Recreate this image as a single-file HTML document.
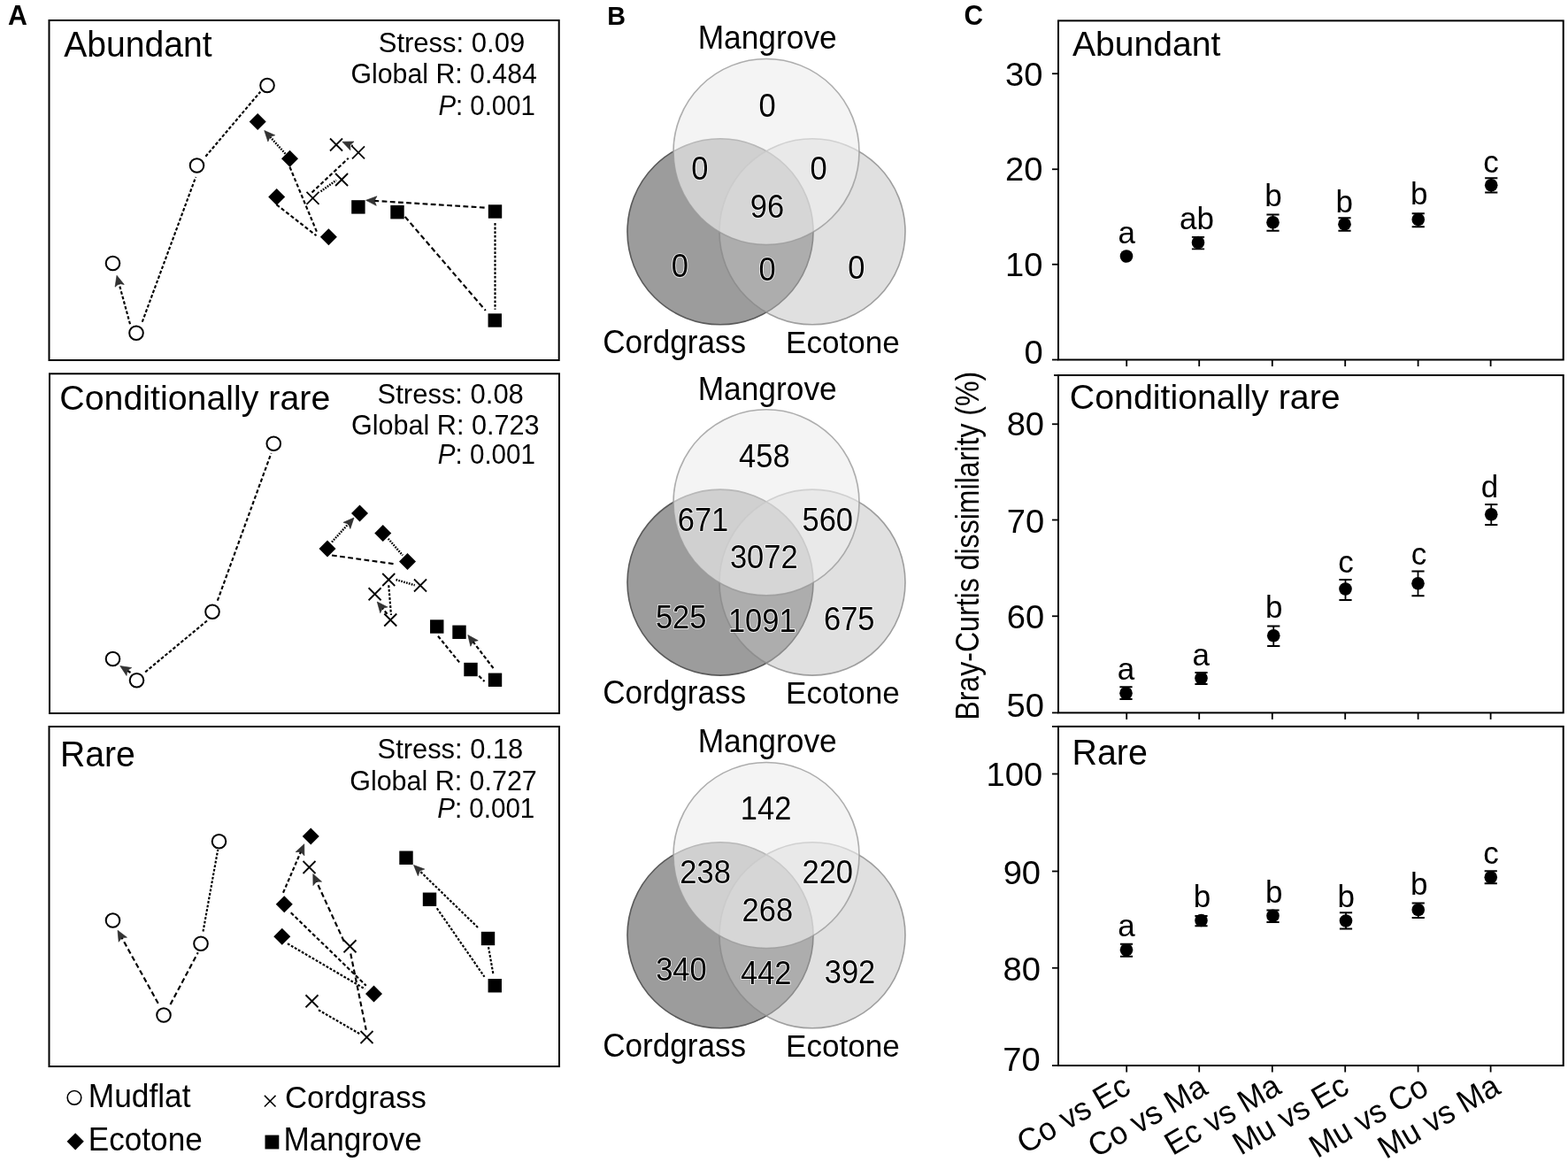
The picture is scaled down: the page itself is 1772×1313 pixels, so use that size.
<!DOCTYPE html>
<html><head><meta charset="utf-8"><title>Figure</title>
<style>
html,body{margin:0;padding:0;background:#fff;}
svg{display:block;}
text{font-family:"Liberation Sans", Arial, Helvetica, sans-serif;fill:#000;}
</style></head>
<body>
<svg width="1772" height="1313" viewBox="0 0 1772 1313">
<rect width="1772" height="1313" fill="#fff"/>
<rect x="55.5" y="23" width="576.20" height="384.00" fill="none" stroke="#000" stroke-width="2"/>
<rect x="56" y="422.3" width="576.00" height="383.70" fill="none" stroke="#000" stroke-width="2"/>
<rect x="55.5" y="821" width="576.50" height="384.00" fill="none" stroke="#000" stroke-width="2"/>
<path d="M160.75 363.75L221.25 200.00" stroke="#000" stroke-width="2.15" stroke-dasharray="3.6,2.2" fill="none"/>
<path d="M232.40 176.80L294.20 103.70" stroke="#000" stroke-width="2.15" stroke-dasharray="3.6,2.2" fill="none"/>
<path d="M147.00 366.25L134.37 319.93" stroke="#000" stroke-width="2.15" stroke-dasharray="3.6,2.2" fill="none"/>
<path d="M132.00 311.25L140.27 321.43L134.50 320.42L130.04 324.22Z" fill="#333" stroke="#222" stroke-width="0.6"/>
<path d="M322.50 173.75L304.79 154.17" stroke="#000" stroke-width="2.4" stroke-dasharray="1.7,1.3" fill="none"/>
<path d="M298.75 147.50L310.73 152.84L305.12 154.54L302.87 159.95Z" fill="#333" stroke="#222" stroke-width="0.6"/>
<path d="M327.50 188.75L358.75 263.75" stroke="#000" stroke-width="2.15" stroke-dasharray="4.2,2.6" fill="none"/>
<path d="M312.50 231.25L357.50 266.25" stroke="#000" stroke-width="2.15" stroke-dasharray="4.2,2.6" fill="none"/>
<path d="M352.50 217.50L393.75 178.75" stroke="#000" stroke-width="2.15" stroke-dasharray="4.2,2.6" fill="none"/>
<path d="M362.50 216.25L380.00 203.75" stroke="#000" stroke-width="2.4" stroke-dasharray="1.7,1.3" fill="none"/>
<path d="M398.60 165.10L395.20 163.68" stroke="#000" stroke-width="2.4" stroke-dasharray="1.7,1.3" fill="none"/>
<path d="M386.90 160.20L400.02 159.95L395.66 163.87L395.92 169.72Z" fill="#333" stroke="#222" stroke-width="0.6"/>
<path d="M547.60 234.60L422.58 226.86" stroke="#000" stroke-width="2.15" stroke-dasharray="5.8,3.4" fill="none"/>
<path d="M413.60 226.30L425.90 221.75L423.08 226.89L425.25 232.33Z" fill="#333" stroke="#222" stroke-width="0.6"/>
<path d="M457.70 244.90L548.80 350.90" stroke="#000" stroke-width="2.15" stroke-dasharray="5.8,3.4" fill="none"/>
<path d="M559.50 252.00L559.50 349.80" stroke="#000" stroke-width="2.15" stroke-dasharray="2.8,1.8" fill="none"/>
<path d="M245.80 678.70L306.50 512.10" stroke="#000" stroke-width="2.15" stroke-dasharray="4.2,2.6" fill="none"/>
<path d="M164.20 759.30L234.80 700.80" stroke="#000" stroke-width="2.15" stroke-dasharray="3.6,2.2" fill="none"/>
<path d="M147.50 760.00L143.34 757.34" stroke="#000" stroke-width="2.15" stroke-dasharray="4.2,2.6" fill="none"/>
<path d="M135.75 752.50L148.72 754.49L143.76 757.61L143.01 763.42Z" fill="#333" stroke="#222" stroke-width="0.6"/>
<path d="M375.00 612.50L393.95 591.66" stroke="#000" stroke-width="2.4" stroke-dasharray="1.7,1.3" fill="none"/>
<path d="M400.00 585.00L395.85 597.44L393.61 592.03L388.01 590.31Z" fill="#333" stroke="#222" stroke-width="0.6"/>
<path d="M375.00 627.50L447.50 637.50" stroke="#000" stroke-width="2.15" stroke-dasharray="5.8,3.4" fill="none"/>
<path d="M438.75 608.75L455.00 627.50" stroke="#000" stroke-width="2.4" stroke-dasharray="1.7,1.3" fill="none"/>
<path d="M447.50 655.00L468.75 661.25" stroke="#000" stroke-width="2.4" stroke-dasharray="1.7,1.3" fill="none"/>
<path d="M439.25 661.25L442.00 695.00" stroke="#000" stroke-width="2.15" stroke-dasharray="2.8,1.8" fill="none"/>
<path d="M437.50 693.75L431.95 686.97" stroke="#000" stroke-width="2.15" stroke-dasharray="4.2,2.6" fill="none"/>
<path d="M426.25 680.00L437.95 685.93L432.27 687.35L429.75 692.64Z" fill="#333" stroke="#222" stroke-width="0.6"/>
<path d="M495.00 718.75L520.00 749.50" stroke="#000" stroke-width="2.15" stroke-dasharray="4.2,2.6" fill="none"/>
<path d="M557.50 755.00L534.23 724.64" stroke="#000" stroke-width="2.15" stroke-dasharray="4.2,2.6" fill="none"/>
<path d="M528.75 717.50L540.26 723.80L534.53 725.04L531.85 730.25Z" fill="#333" stroke="#222" stroke-width="0.6"/>
<path d="M541.25 763.75L547.50 770.00" stroke="#000" stroke-width="2.15" stroke-dasharray="4.2,2.6" fill="none"/>
<path d="M192.50 1135.00L223.75 1076.25" stroke="#000" stroke-width="2.15" stroke-dasharray="5.8,3.4" fill="none"/>
<path d="M229.50 1052.50L246.25 960.00" stroke="#000" stroke-width="2.15" stroke-dasharray="2.8,1.8" fill="none"/>
<path d="M178.75 1133.75L137.36 1059.12" stroke="#000" stroke-width="2.15" stroke-dasharray="5.8,3.4" fill="none"/>
<path d="M133.00 1051.25L143.45 1059.17L137.61 1059.56L134.18 1064.31Z" fill="#333" stroke="#222" stroke-width="0.6"/>
<path d="M320.00 1008.75L340.18 962.01" stroke="#000" stroke-width="2.15" stroke-dasharray="4.2,2.6" fill="none"/>
<path d="M343.75 953.75L343.86 966.87L339.98 962.47L334.13 962.67Z" fill="#333" stroke="#222" stroke-width="0.6"/>
<path d="M328.75 1031.25L413.75 1113.75" stroke="#000" stroke-width="2.15" stroke-dasharray="4.2,2.6" fill="none"/>
<path d="M325.00 1066.25L412.50 1117.50" stroke="#000" stroke-width="2.15" stroke-dasharray="2.8,1.8" fill="none"/>
<path d="M388.75 1063.75L357.50 995.68" stroke="#000" stroke-width="2.15" stroke-dasharray="5.8,3.4" fill="none"/>
<path d="M353.75 987.50L363.57 996.19L357.71 996.13L353.94 1000.62Z" fill="#333" stroke="#222" stroke-width="0.6"/>
<path d="M396.25 1077.50L413.75 1163.75" stroke="#000" stroke-width="2.15" stroke-dasharray="5.8,3.4" fill="none"/>
<path d="M360.00 1141.25L407.50 1168.75" stroke="#000" stroke-width="2.15" stroke-dasharray="2.8,1.8" fill="none"/>
<path d="M540.00 1048.00L473.95 983.77" stroke="#000" stroke-width="2.15" stroke-dasharray="2.8,1.8" fill="none"/>
<path d="M467.50 977.50L479.80 982.07L474.31 984.12L472.41 989.67Z" fill="#333" stroke="#222" stroke-width="0.6"/>
<path d="M493.75 1026.25L547.50 1103.75" stroke="#000" stroke-width="2.15" stroke-dasharray="2.8,1.8" fill="none"/>
<path d="M552.00 1070.00L557.50 1101.25" stroke="#000" stroke-width="2.15" stroke-dasharray="2.8,1.8" fill="none"/>
<circle cx="302" cy="96.5" r="7.8" fill="#fff" stroke="#000" stroke-width="2"/>
<circle cx="222.5" cy="187" r="7.8" fill="#fff" stroke="#000" stroke-width="2"/>
<circle cx="127.5" cy="297.5" r="7.8" fill="#fff" stroke="#000" stroke-width="2"/>
<circle cx="154" cy="376.25" r="7.8" fill="#fff" stroke="#000" stroke-width="2"/>
<path d="M281.70 137.40L291.20 127.90L300.70 137.40L291.20 146.90Z" fill="#000"/>
<path d="M318.00 179.30L327.50 169.80L337.00 179.30L327.50 188.80Z" fill="#000"/>
<path d="M303.20 222.40L312.70 212.90L322.20 222.40L312.70 231.90Z" fill="#000"/>
<path d="M361.90 267.80L371.40 258.30L380.90 267.80L371.40 277.30Z" fill="#000"/>
<path d="M373.00 156.50L387.00 170.50M373.00 170.50L387.00 156.50" stroke="#000" stroke-width="1.8" fill="none"/>
<path d="M398.00 165.30L412.00 179.30M398.00 179.30L412.00 165.30" stroke="#000" stroke-width="1.8" fill="none"/>
<path d="M379.10 196.00L393.10 210.00M379.10 210.00L393.10 196.00" stroke="#000" stroke-width="1.8" fill="none"/>
<path d="M346.50 216.80L360.50 230.80M346.50 230.80L360.50 216.80" stroke="#000" stroke-width="1.8" fill="none"/>
<rect x="397.20" y="226.20" width="15.4" height="15.4" fill="#000"/>
<rect x="441.30" y="232.00" width="15.4" height="15.4" fill="#000"/>
<rect x="551.80" y="231.30" width="15.4" height="15.4" fill="#000"/>
<rect x="551.55" y="354.30" width="15.4" height="15.4" fill="#000"/>
<circle cx="309.25" cy="501.25" r="7.8" fill="#fff" stroke="#000" stroke-width="2"/>
<circle cx="240" cy="691.25" r="7.8" fill="#fff" stroke="#000" stroke-width="2"/>
<circle cx="127.5" cy="744.5" r="7.8" fill="#fff" stroke="#000" stroke-width="2"/>
<circle cx="154.5" cy="768.75" r="7.8" fill="#fff" stroke="#000" stroke-width="2"/>
<path d="M397.00 580.00L406.50 570.50L416.00 580.00L406.50 589.50Z" fill="#000"/>
<path d="M423.25 602.50L432.75 593.00L442.25 602.50L432.75 612.00Z" fill="#000"/>
<path d="M360.50 620.00L370.00 610.50L379.50 620.00L370.00 629.50Z" fill="#000"/>
<path d="M451.00 634.50L460.50 625.00L470.00 634.50L460.50 644.00Z" fill="#000"/>
<path d="M432.25 648.00L446.25 662.00M432.25 662.00L446.25 648.00" stroke="#000" stroke-width="1.8" fill="none"/>
<path d="M468.00 654.50L482.00 668.50M468.00 668.50L482.00 654.50" stroke="#000" stroke-width="1.8" fill="none"/>
<path d="M416.60 664.25L430.60 678.25M416.60 678.25L430.60 664.25" stroke="#000" stroke-width="1.8" fill="none"/>
<path d="M434.25 693.50L448.25 707.50M434.25 707.50L448.25 693.50" stroke="#000" stroke-width="1.8" fill="none"/>
<rect x="486.05" y="700.30" width="15.4" height="15.4" fill="#000"/>
<rect x="511.30" y="706.55" width="15.4" height="15.4" fill="#000"/>
<rect x="524.30" y="748.80" width="15.4" height="15.4" fill="#000"/>
<rect x="551.80" y="760.55" width="15.4" height="15.4" fill="#000"/>
<circle cx="247.5" cy="950.75" r="7.8" fill="#fff" stroke="#000" stroke-width="2"/>
<circle cx="127.5" cy="1040" r="7.8" fill="#fff" stroke="#000" stroke-width="2"/>
<circle cx="227" cy="1066.25" r="7.8" fill="#fff" stroke="#000" stroke-width="2"/>
<circle cx="185" cy="1147" r="7.8" fill="#fff" stroke="#000" stroke-width="2"/>
<path d="M341.75 945.00L351.25 935.50L360.75 945.00L351.25 954.50Z" fill="#000"/>
<path d="M311.75 1021.75L321.25 1012.25L330.75 1021.75L321.25 1031.25Z" fill="#000"/>
<path d="M309.25 1058.25L318.75 1048.75L328.25 1058.25L318.75 1067.75Z" fill="#000"/>
<path d="M413.00 1123.00L422.50 1113.50L432.00 1123.00L422.50 1132.50Z" fill="#000"/>
<path d="M342.50 973.00L356.50 987.00M342.50 987.00L356.50 973.00" stroke="#000" stroke-width="1.8" fill="none"/>
<path d="M388.50 1062.25L402.50 1076.25M388.50 1076.25L402.50 1062.25" stroke="#000" stroke-width="1.8" fill="none"/>
<path d="M345.50 1124.25L359.50 1138.25M345.50 1138.25L359.50 1124.25" stroke="#000" stroke-width="1.8" fill="none"/>
<path d="M407.50 1165.00L421.50 1179.00M407.50 1179.00L421.50 1165.00" stroke="#000" stroke-width="1.8" fill="none"/>
<rect x="451.30" y="961.55" width="15.4" height="15.4" fill="#000"/>
<rect x="477.80" y="1008.55" width="15.4" height="15.4" fill="#000"/>
<rect x="543.80" y="1052.80" width="15.4" height="15.4" fill="#000"/>
<rect x="551.55" y="1106.05" width="15.4" height="15.4" fill="#000"/>
<circle cx="84.0" cy="1240.3" r="7.8" fill="#fff" stroke="#000" stroke-width="1.6"/>
<path d="M298.90 1237.90L311.50 1250.50M298.90 1250.50L311.50 1237.90" stroke="#000" stroke-width="1.5" fill="none"/>
<path d="M75.60 1289.80L85.20 1280.20L94.80 1289.80L85.20 1299.40Z" fill="#000"/>
<rect x="299.50" y="1282.60" width="15.8" height="15.8" fill="#000"/>
<circle cx="814" cy="261.8" r="105.0" fill="#9c9c9c" stroke="#5a5a5a" stroke-width="1.6"/>
<circle cx="918" cy="261.8" r="105.0" fill="#bfbfbf" fill-opacity="0.485" stroke="#8a8a8a" stroke-opacity="0.8" stroke-width="1.6"/>
<circle cx="866" cy="171.5" r="105.0" fill="#eeeeee" fill-opacity="0.636" stroke="#9a9a9a" stroke-opacity="0.8" stroke-width="1.6"/>
<circle cx="814" cy="658.1" r="105.0" fill="#9c9c9c" stroke="#5a5a5a" stroke-width="1.6"/>
<circle cx="918" cy="658.1" r="105.0" fill="#bfbfbf" fill-opacity="0.485" stroke="#8a8a8a" stroke-opacity="0.8" stroke-width="1.6"/>
<circle cx="866" cy="567.8" r="105.0" fill="#eeeeee" fill-opacity="0.636" stroke="#9a9a9a" stroke-opacity="0.8" stroke-width="1.6"/>
<circle cx="814" cy="1056.8" r="105.0" fill="#9c9c9c" stroke="#5a5a5a" stroke-width="1.6"/>
<circle cx="918" cy="1056.8" r="105.0" fill="#bfbfbf" fill-opacity="0.485" stroke="#8a8a8a" stroke-opacity="0.8" stroke-width="1.6"/>
<circle cx="866" cy="966.5" r="105.0" fill="#eeeeee" fill-opacity="0.636" stroke="#9a9a9a" stroke-opacity="0.8" stroke-width="1.6"/>
<rect x="1196" y="23.4" width="570.70" height="383.10" fill="none" stroke="#000" stroke-width="2"/>
<rect x="1196" y="424" width="570.70" height="381.40" fill="none" stroke="#000" stroke-width="2"/>
<rect x="1196" y="820.9" width="570.70" height="383.10" fill="none" stroke="#000" stroke-width="2"/>
<path d="M1189 406.5H1196" stroke="#000" stroke-width="1.8"/>
<path d="M1189 298.75H1196" stroke="#000" stroke-width="1.8"/>
<path d="M1189 191.25H1196" stroke="#000" stroke-width="1.8"/>
<path d="M1189 83.25H1196" stroke="#000" stroke-width="1.8"/>
<path d="M1189 805.4H1196" stroke="#000" stroke-width="1.8"/>
<path d="M1189 696.25H1196" stroke="#000" stroke-width="1.8"/>
<path d="M1189 587.5H1196" stroke="#000" stroke-width="1.8"/>
<path d="M1189 479.25H1196" stroke="#000" stroke-width="1.8"/>
<path d="M1191 424H1196" stroke="#000" stroke-width="1.8"/>
<path d="M1189 1204H1196" stroke="#000" stroke-width="1.8"/>
<path d="M1189 1093.75H1196" stroke="#000" stroke-width="1.8"/>
<path d="M1189 984.5H1196" stroke="#000" stroke-width="1.8"/>
<path d="M1189 874.5H1196" stroke="#000" stroke-width="1.8"/>
<path d="M1189 820.9H1196" stroke="#000" stroke-width="1.8"/>
<path d="M1273.2 406.5V414.0" stroke="#000" stroke-width="1.8"/>
<path d="M1355.2 406.5V414.0" stroke="#000" stroke-width="1.8"/>
<path d="M1437.8 406.5V414.0" stroke="#000" stroke-width="1.8"/>
<path d="M1520.2 406.5V414.0" stroke="#000" stroke-width="1.8"/>
<path d="M1602.6 406.5V414.0" stroke="#000" stroke-width="1.8"/>
<path d="M1684.6 406.5V414.0" stroke="#000" stroke-width="1.8"/>
<path d="M1273.2 805.4V812.9" stroke="#000" stroke-width="1.8"/>
<path d="M1355.2 805.4V812.9" stroke="#000" stroke-width="1.8"/>
<path d="M1437.8 805.4V812.9" stroke="#000" stroke-width="1.8"/>
<path d="M1520.2 805.4V812.9" stroke="#000" stroke-width="1.8"/>
<path d="M1602.6 805.4V812.9" stroke="#000" stroke-width="1.8"/>
<path d="M1684.6 805.4V812.9" stroke="#000" stroke-width="1.8"/>
<path d="M1273.2 1204V1211.5" stroke="#000" stroke-width="1.8"/>
<path d="M1355.2 1204V1211.5" stroke="#000" stroke-width="1.8"/>
<path d="M1437.8 1204V1211.5" stroke="#000" stroke-width="1.8"/>
<path d="M1520.2 1204V1211.5" stroke="#000" stroke-width="1.8"/>
<path d="M1602.6 1204V1211.5" stroke="#000" stroke-width="1.8"/>
<path d="M1684.6 1204V1211.5" stroke="#000" stroke-width="1.8"/>
<circle cx="1273" cy="289.5" r="7.3" fill="#000"/>
<path d="M1354 267.8V281.4M1346.9 267.8H1361.1M1346.9 281.4H1361.1" stroke="#000" stroke-width="1.8" fill="none"/>
<circle cx="1354" cy="274" r="7.3" fill="#000"/>
<path d="M1438.5 242.5V260.75M1431.4 242.5H1445.6M1431.4 260.75H1445.6" stroke="#000" stroke-width="1.8" fill="none"/>
<circle cx="1438.5" cy="251.25" r="7.3" fill="#000"/>
<path d="M1519.5 246.25V260.75M1512.4 246.25H1526.6M1512.4 260.75H1526.6" stroke="#000" stroke-width="1.8" fill="none"/>
<circle cx="1519.5" cy="253.25" r="7.3" fill="#000"/>
<path d="M1602.75 241.25V256.25M1595.65 241.25H1609.85M1595.65 256.25H1609.85" stroke="#000" stroke-width="1.8" fill="none"/>
<circle cx="1602.75" cy="248" r="7.3" fill="#000"/>
<path d="M1685.25 201.25V217.5M1678.15 201.25H1692.35M1678.15 217.5H1692.35" stroke="#000" stroke-width="1.8" fill="none"/>
<circle cx="1685.25" cy="209.25" r="7.3" fill="#000"/>
<path d="M1272.5 776.25V790M1265.4 776.25H1279.6M1265.4 790H1279.6" stroke="#000" stroke-width="1.8" fill="none"/>
<circle cx="1272.5" cy="783.25" r="7.3" fill="#000"/>
<path d="M1357.5 760V773M1350.4 760H1364.6M1350.4 773H1364.6" stroke="#000" stroke-width="1.8" fill="none"/>
<circle cx="1357.5" cy="766.25" r="7.3" fill="#000"/>
<path d="M1439.25 707.5V730M1432.15 707.5H1446.35M1432.15 730H1446.35" stroke="#000" stroke-width="1.8" fill="none"/>
<circle cx="1439.25" cy="718.25" r="7.3" fill="#000"/>
<path d="M1520.5 655V678M1513.4 655H1527.6M1513.4 678H1527.6" stroke="#000" stroke-width="1.8" fill="none"/>
<circle cx="1520.5" cy="665.5" r="7.3" fill="#000"/>
<path d="M1602.5 645.5V673.25M1595.4 645.5H1609.6M1595.4 673.25H1609.6" stroke="#000" stroke-width="1.8" fill="none"/>
<circle cx="1602.5" cy="659.25" r="7.3" fill="#000"/>
<path d="M1685.25 570V593M1678.15 570H1692.35M1678.15 593H1692.35" stroke="#000" stroke-width="1.8" fill="none"/>
<circle cx="1685.25" cy="581.25" r="7.3" fill="#000"/>
<path d="M1273 1066.75V1080.75M1265.9 1066.75H1280.1M1265.9 1080.75H1280.1" stroke="#000" stroke-width="1.8" fill="none"/>
<circle cx="1273" cy="1073.25" r="7.3" fill="#000"/>
<path d="M1357.5 1035V1046.25M1350.4 1035H1364.6M1350.4 1046.25H1364.6" stroke="#000" stroke-width="1.8" fill="none"/>
<circle cx="1357.5" cy="1040" r="7.3" fill="#000"/>
<path d="M1438.5 1028.5V1042M1431.4 1028.5H1445.6M1431.4 1042H1445.6" stroke="#000" stroke-width="1.8" fill="none"/>
<circle cx="1438.5" cy="1034.75" r="7.3" fill="#000"/>
<path d="M1521 1031.25V1049.5M1513.9 1031.25H1528.1M1513.9 1049.5H1528.1" stroke="#000" stroke-width="1.8" fill="none"/>
<circle cx="1521" cy="1040.5" r="7.3" fill="#000"/>
<path d="M1602.75 1020.5V1037M1595.65 1020.5H1609.85M1595.65 1037H1609.85" stroke="#000" stroke-width="1.8" fill="none"/>
<circle cx="1602.75" cy="1028" r="7.3" fill="#000"/>
<path d="M1684.75 984.25V998.25M1677.65 984.25H1691.85M1677.65 998.25H1691.85" stroke="#000" stroke-width="1.8" fill="none"/>
<circle cx="1684.75" cy="991.25" r="7.3" fill="#000"/>
<text transform="translate(1105.5 616.75) rotate(-90) scale(1 1.04)" font-size="35.8" text-anchor="middle" textLength="394" lengthAdjust="spacingAndGlyphs">Bray-Curtis dissimilarity (%)</text>
<text transform="translate(1279.70 1234.50) rotate(-30) scale(1 1.04)" font-size="35" text-anchor="end">Co vs Ec</text>
<text transform="translate(1366.80 1235.00) rotate(-30) scale(1 1.04)" font-size="35" text-anchor="end">Co vs Ma</text>
<text transform="translate(1449.80 1234.30) rotate(-30) scale(1 1.04)" font-size="35" text-anchor="end">Ec vs Ma</text>
<text transform="translate(1526.70 1234.10) rotate(-30) scale(1 1.04)" font-size="35" text-anchor="end">Mu vs Ec</text>
<text transform="translate(1616.60 1235.30) rotate(-30) scale(1 1.04)" font-size="35" text-anchor="end">Mu vs Co</text>
<text transform="translate(1697.60 1234.40) rotate(-30) scale(1 1.04)" font-size="35" text-anchor="end">Mu vs Ma</text>
<text transform="matrix(1.0100 0 0 1.0750 8.89 27.90)" font-size="30" font-weight="bold">A</text>
<text transform="matrix(0.9579 0 0 0.9962 686.18 27.70)" font-size="30" font-weight="bold">B</text>
<text transform="matrix(0.9950 0 0 1.0750 1089.41 27.80)" font-size="30" font-weight="bold">C</text>
<text transform="matrix(1.0030 0 0 1.0214 72.20 64.30)" font-size="39">Abundant</text>
<text transform="matrix(1.0087 0 0 1.0179 67.28 463.20)" font-size="39">Conditionally rare</text>
<text transform="matrix(1.0037 0 0 1.0444 67.89 865.50)" font-size="39">Rare</text>
<text transform="matrix(1.0006 0 0 1.0182 427.70 58.60)" font-size="31">Stress: 0.09</text>
<text transform="matrix(0.9766 0 0 1.0157 396.52 94.30)" font-size="31">Global R: 0.484</text>
<text transform="matrix(0.9478 0 0 1.0045 495.45 130.00)" font-size="31"><tspan font-style="italic">P</tspan>: 0.001</text>
<text transform="matrix(0.9994 0 0 1.0136 426.60 456.10)" font-size="31">Stress: 0.08</text>
<text transform="matrix(0.9864 0 0 1.0258 397.01 490.60)" font-size="31">Global R: 0.723</text>
<text transform="matrix(0.9531 0 0 1.0182 494.85 524.00)" font-size="31"><tspan font-style="italic">P</tspan>: 0.001</text>
<text transform="matrix(0.9957 0 0 1.0136 426.60 857.10)" font-size="31">Stress: 0.18</text>
<text transform="matrix(0.9826 0 0 1.0219 395.22 893.20)" font-size="31">Global R: 0.727</text>
<text transform="matrix(0.9540 0 0 1.0182 494.15 924.30)" font-size="31"><tspan font-style="italic">P</tspan>: 0.001</text>
<text transform="matrix(1.0380 0 0 1.0625 99.79 1251.40)" font-size="34">Mudflat</text>
<text transform="matrix(1.0213 0 0 1.0458 321.88 1251.90)" font-size="34">Cordgrass</text>
<text transform="matrix(1.0342 0 0 1.0696 99.80 1300.20)" font-size="34">Ecotone</text>
<text transform="matrix(1.0347 0 0 1.0696 320.40 1300.20)" font-size="34">Mangrove</text>
<text transform="matrix(1.0093 0 0 1.0500 788.67 55.30)" font-size="35">Mangrove</text>
<text transform="matrix(1.0032 0 0 1.0433 681.19 398.60)" font-size="35">Cordgrass</text>
<text transform="matrix(1.0032 0 0 1.0000 887.99 398.60)" font-size="35">Ecotone</text>
<text transform="matrix(1.0093 0 0 1.0500 788.67 451.60)" font-size="35">Mangrove</text>
<text transform="matrix(1.0032 0 0 1.0433 681.19 794.90)" font-size="35">Cordgrass</text>
<text transform="matrix(1.0032 0 0 1.0000 887.99 794.90)" font-size="35">Ecotone</text>
<text transform="matrix(1.0093 0 0 1.0500 788.67 850.30)" font-size="35">Mangrove</text>
<text transform="matrix(1.0032 0 0 1.0433 681.19 1193.60)" font-size="35">Cordgrass</text>
<text transform="matrix(1.0032 0 0 1.0000 887.99 1193.60)" font-size="35">Ecotone</text>
<text transform="matrix(1.0000 0 0 1.0800 857.60 132.00)" font-size="34.5" stroke="#fff" stroke-width="1.6" stroke-opacity="0.9" paint-order="stroke" stroke-linejoin="round">0</text>
<text transform="matrix(1.0000 0 0 1.0800 781.15 202.90)" font-size="34.5" stroke="#fff" stroke-width="1.6" stroke-opacity="0.9" paint-order="stroke" stroke-linejoin="round">0</text>
<text transform="matrix(1.0000 0 0 1.0800 915.40 202.90)" font-size="34.5" stroke="#fff" stroke-width="1.6" stroke-opacity="0.9" paint-order="stroke" stroke-linejoin="round">0</text>
<text transform="matrix(1.0000 0 0 1.0800 847.70 246.40)" font-size="34.5" stroke="#fff" stroke-width="1.6" stroke-opacity="0.9" paint-order="stroke" stroke-linejoin="round">96</text>
<text transform="matrix(1.0000 0 0 1.0800 758.70 313.40)" font-size="34.5" stroke="#fff" stroke-width="1.6" stroke-opacity="0.9" paint-order="stroke" stroke-linejoin="round">0</text>
<text transform="matrix(1.0000 0 0 1.0800 857.60 317.10)" font-size="34.5" stroke="#fff" stroke-width="1.6" stroke-opacity="0.9" paint-order="stroke" stroke-linejoin="round">0</text>
<text transform="matrix(1.0000 0 0 1.0800 958.35 315.20)" font-size="34.5" stroke="#fff" stroke-width="1.6" stroke-opacity="0.9" paint-order="stroke" stroke-linejoin="round">0</text>
<text transform="matrix(1.0000 0 0 1.0800 835.10 528.20)" font-size="34.5" stroke="#fff" stroke-width="1.6" stroke-opacity="0.9" paint-order="stroke" stroke-linejoin="round">458</text>
<text transform="matrix(1.0000 0 0 1.0800 765.70 599.70)" font-size="34.5" stroke="#fff" stroke-width="1.6" stroke-opacity="0.9" paint-order="stroke" stroke-linejoin="round">671</text>
<text transform="matrix(1.0000 0 0 1.0800 906.45 600.20)" font-size="34.5" stroke="#fff" stroke-width="1.6" stroke-opacity="0.9" paint-order="stroke" stroke-linejoin="round">560</text>
<text transform="matrix(1.0000 0 0 1.0800 824.90 642.10)" font-size="34.5" stroke="#fff" stroke-width="1.6" stroke-opacity="0.9" paint-order="stroke" stroke-linejoin="round">3072</text>
<text transform="matrix(1.0000 0 0 1.0800 740.90 710.40)" font-size="34.5" stroke="#fff" stroke-width="1.6" stroke-opacity="0.9" paint-order="stroke" stroke-linejoin="round">525</text>
<text transform="matrix(1.0000 0 0 1.0800 822.90 713.60)" font-size="34.5" stroke="#fff" stroke-width="1.6" stroke-opacity="0.9" paint-order="stroke" stroke-linejoin="round">1091</text>
<text transform="matrix(1.0000 0 0 1.0800 931.00 711.80)" font-size="34.5" stroke="#fff" stroke-width="1.6" stroke-opacity="0.9" paint-order="stroke" stroke-linejoin="round">675</text>
<text transform="matrix(1.0000 0 0 1.0800 836.80 926.20)" font-size="34.5" stroke="#fff" stroke-width="1.6" stroke-opacity="0.9" paint-order="stroke" stroke-linejoin="round">142</text>
<text transform="matrix(1.0000 0 0 1.0800 768.35 997.70)" font-size="34.5" stroke="#fff" stroke-width="1.6" stroke-opacity="0.9" paint-order="stroke" stroke-linejoin="round">238</text>
<text transform="matrix(1.0000 0 0 1.0800 906.45 997.70)" font-size="34.5" stroke="#fff" stroke-width="1.6" stroke-opacity="0.9" paint-order="stroke" stroke-linejoin="round">220</text>
<text transform="matrix(1.0000 0 0 1.0800 838.60 1040.60)" font-size="34.5" stroke="#fff" stroke-width="1.6" stroke-opacity="0.9" paint-order="stroke" stroke-linejoin="round">268</text>
<text transform="matrix(1.0000 0 0 1.0800 741.15 1108.40)" font-size="34.5" stroke="#fff" stroke-width="1.6" stroke-opacity="0.9" paint-order="stroke" stroke-linejoin="round">340</text>
<text transform="matrix(1.0000 0 0 1.0800 837.00 1111.90)" font-size="34.5" stroke="#fff" stroke-width="1.6" stroke-opacity="0.9" paint-order="stroke" stroke-linejoin="round">442</text>
<text transform="matrix(1.0000 0 0 1.0800 931.70 1110.70)" font-size="34.5" stroke="#fff" stroke-width="1.6" stroke-opacity="0.9" paint-order="stroke" stroke-linejoin="round">392</text>
<text transform="matrix(1.0036 0 0 1.0179 1211.90 62.80)" font-size="39">Abundant</text>
<text transform="matrix(1.0080 0 0 1.0179 1208.78 461.90)" font-size="39">Conditionally rare</text>
<text transform="matrix(1.0088 0 0 1.0333 1211.57 864.00)" font-size="39">Rare</text>
<text transform="matrix(1.0450 0 0 1.0000 1135.95 97.10)" font-size="36.5">30</text>
<text transform="matrix(1.0450 0 0 1.0000 1135.95 204.30)" font-size="36.5">20</text>
<text transform="matrix(1.0450 0 0 1.0000 1135.95 312.30)" font-size="36.5">10</text>
<text transform="matrix(1.0450 0 0 1.0000 1157.55 411.40)" font-size="36.5">0</text>
<text transform="matrix(1.0450 0 0 1.0000 1137.64 492.40)" font-size="36.5">80</text>
<text transform="matrix(1.0450 0 0 1.0000 1137.84 601.60)" font-size="36.5">70</text>
<text transform="matrix(1.0450 0 0 1.0000 1137.84 710.30)" font-size="36.5">60</text>
<text transform="matrix(1.0450 0 0 1.0000 1137.45 810.40)" font-size="36.5">50</text>
<text transform="matrix(1.0450 0 0 1.0000 1114.60 888.40)" font-size="36.5">100</text>
<text transform="matrix(1.0450 0 0 1.0000 1133.64 998.80)" font-size="36.5">90</text>
<text transform="matrix(1.0450 0 0 1.0000 1133.55 1108.10)" font-size="36.5">80</text>
<text transform="matrix(1.0450 0 0 1.0000 1133.34 1209.50)" font-size="36.5">70</text>
<text transform="matrix(1.0000 0 0 1.0000 1263.50 275.30)" font-size="35">a</text>
<text transform="matrix(1.0000 0 0 1.0000 1333.00 258.80)" font-size="35">ab</text>
<text transform="matrix(1.0000 0 0 1.0000 1429.25 232.80)" font-size="35">b</text>
<text transform="matrix(1.0000 0 0 1.0000 1509.50 239.55)" font-size="35">b</text>
<text transform="matrix(1.0000 0 0 1.0000 1594.00 231.30)" font-size="35">b</text>
<text transform="matrix(1.0000 0 0 1.0000 1676.25 194.55)" font-size="35">c</text>
<text transform="matrix(1.0000 0 0 1.0000 1262.75 768.30)" font-size="35">a</text>
<text transform="matrix(1.0000 0 0 1.0000 1347.50 751.55)" font-size="35">a</text>
<text transform="matrix(1.0000 0 0 1.0000 1430.00 698.30)" font-size="35">b</text>
<text transform="matrix(1.0000 0 0 1.0000 1512.25 646.55)" font-size="35">c</text>
<text transform="matrix(1.0000 0 0 1.0000 1594.75 638.30)" font-size="35">c</text>
<text transform="matrix(1.0000 0 0 1.0000 1673.75 562.05)" font-size="35">d</text>
<text transform="matrix(1.0000 0 0 1.0000 1263.25 1058.30)" font-size="35">a</text>
<text transform="matrix(1.0000 0 0 1.0000 1348.75 1024.55)" font-size="35">b</text>
<text transform="matrix(1.0000 0 0 1.0000 1430.00 1019.55)" font-size="35">b</text>
<text transform="matrix(1.0000 0 0 1.0000 1511.50 1024.55)" font-size="35">b</text>
<text transform="matrix(1.0000 0 0 1.0000 1594.00 1011.30)" font-size="35">b</text>
<text transform="matrix(1.0000 0 0 1.0000 1676.25 975.80)" font-size="35">c</text>
</svg>
</body></html>
